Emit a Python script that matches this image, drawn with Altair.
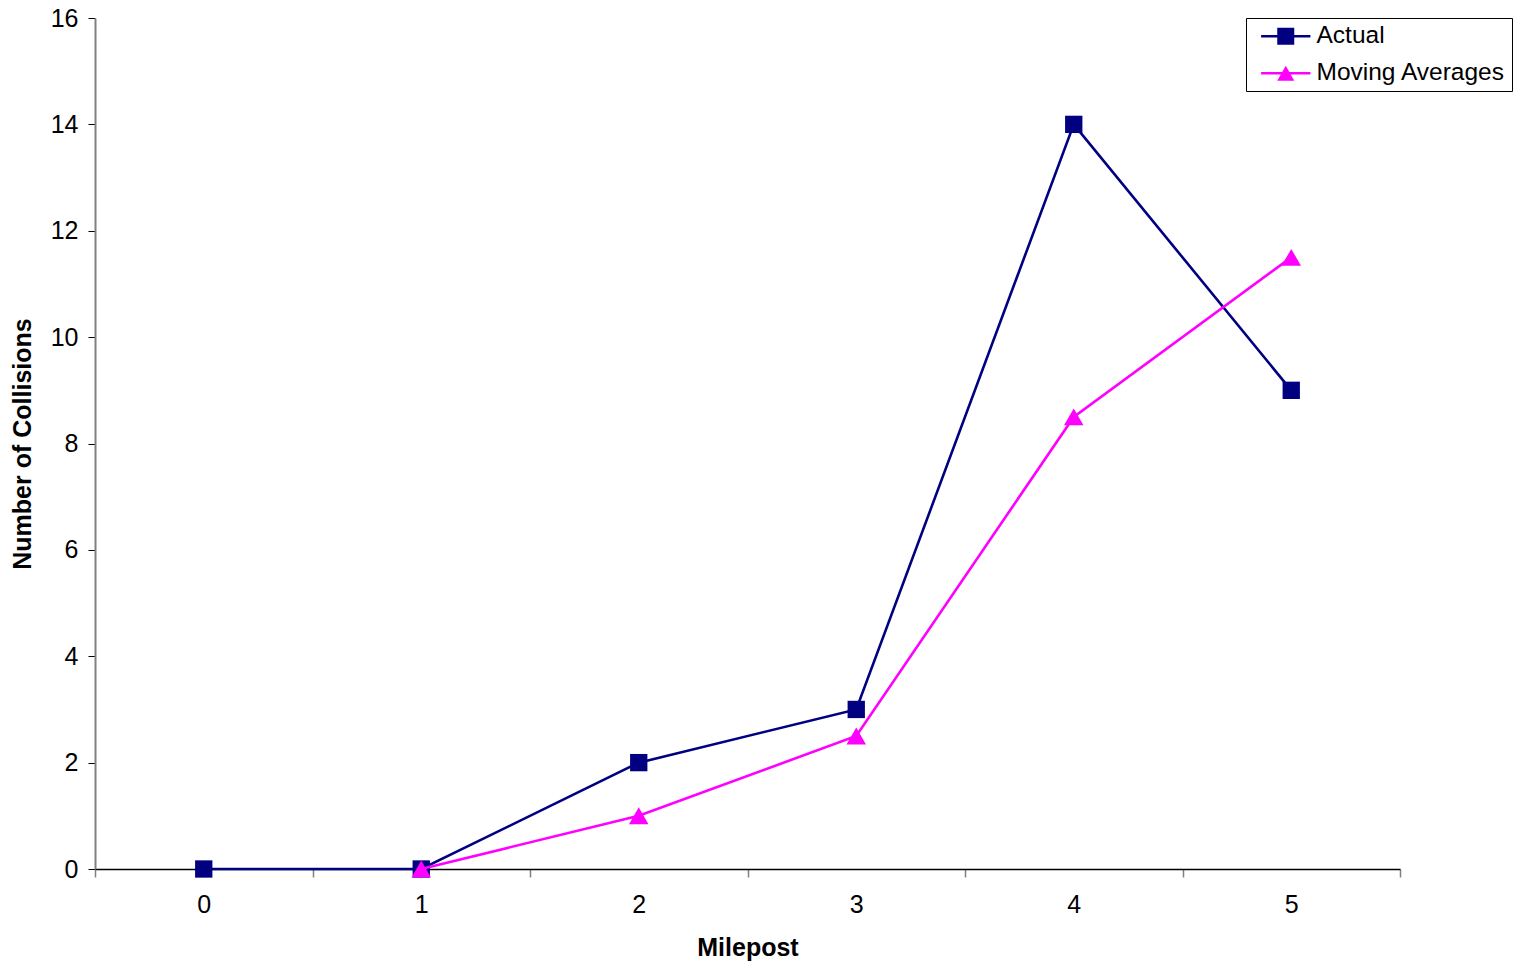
import altair as alt
import pandas as pd

# ---- data ----
mileposts = [0, 1, 2, 3, 4, 5]
actual = [0, 0, 2, 3, 14, 9]
moving_averages = [None, 0, 1, 2.5, 8.5, 11.5]
series_names = ["Actual", "Moving Averages"]
series_colors = ["#000080", "#FF00FF"]
y_tick_values = [0, 2, 4, 6, 8, 10, 12, 14, 16]

rows = []
for m, v in zip(mileposts, actual):
    rows.append({"Milepost": m, "Collisions": v, "Series": series_names[0]})
for m, v in zip(mileposts, moving_averages):
    if v is not None:
        rows.append({"Milepost": m, "Collisions": v, "Series": series_names[1]})
df = pd.DataFrame(rows)

# category boundaries for the tick marks (Excel style: ticks between categories)
x_tick_values = [m - 0.5 for m in mileposts] + [mileposts[-1] + 0.5]

FONT = "Liberation Sans"
PLOT_W, PLOT_H = 1305, 851
half_cat = PLOT_W / len(mileposts) / 2

# legend keys: a line segment with the marker on it
SQUARE_KEY = "M-2.9,-0.15H2.9V0.15H-2.9Z M-1,-1H1V1H-1Z"
TRIANGLE_KEY = "M-2.9,-0.15H2.9V0.15H-2.9Z M0,-0.87L1,0.87H-1Z"

color_scale = alt.Scale(domain=series_names, range=series_colors)

x_enc = alt.X(
    "Milepost:Q",
    scale=alt.Scale(domain=[mileposts[0] - 0.5, mileposts[-1] + 0.5], nice=False, zero=False),
    axis=alt.Axis(
        title="Milepost",
        values=x_tick_values,
        labelExpr="datum.value > 5 ? '' : format(datum.value + 0.5, 'd')",
        labelOffset=half_cat,
        labelFlush=False,
        labelOverlap=False,
        labelBaseline="middle",
        labelPadding=27,
        tickSize=8,
        tickColor="#808080",
        tickWidth=1.5,
        domainColor="#000000",
        domainWidth=1.5,
        titleX=PLOT_W / 2,
        titleY=78,
        titleAlign="center",
        titleBaseline="middle",
    ),
)
y_enc = alt.Y(
    "Collisions:Q",
    scale=alt.Scale(domain=[0, 16], nice=False),
    axis=alt.Axis(
        title="Number of Collisions",
        values=y_tick_values,
        tickSize=7,
        tickColor="#000000",
        domainColor="#808080",
        domainWidth=2,
        labelPadding=10,
        titleAngle=270,
        titleX=-73,
        titleY=PLOT_H / 2,
        titleAlign="center",
        titleBaseline="middle",
    ),
)

legend = alt.Legend(
    orient="none",
    legendX=1151,
    legendY=0,
    title=None,
    padding=6,
    symbolOffset=21.5,
    labelOffset=18.5,
    rowPadding=12,
    labelLimit=400,
    labelFont=FONT,
    labelFontSize=24.5,
    labelColor="#000000",
    strokeColor="#000000",
    fillColor="#FFFFFF",
    symbolStrokeWidth=0,
    symbolOpacity=1,
    symbolSize=289,
)

legend_layer = alt.Chart(df).mark_point(filled=True, opacity=0).encode(
    x=x_enc,
    y=y_enc,
    color=alt.Color("Series:N", scale=color_scale, legend=legend),
    shape=alt.Shape(
        "Series:N",
        scale=alt.Scale(domain=series_names, range=[SQUARE_KEY, TRIANGLE_KEY]),
        legend=legend,
    ),
)

def series_layers(name, shape, size):
    base = alt.Chart(df).transform_filter(alt.datum.Series == name)
    line = base.mark_line(strokeWidth=2.6).encode(
        x=x_enc, y=y_enc, color=alt.Color("Series:N", scale=color_scale, legend=None)
    )
    pts = base.mark_point(filled=True, opacity=1, shape=shape, size=size).encode(
        x=x_enc, y=y_enc, color=alt.Color("Series:N", scale=color_scale, legend=None)
    )
    return [line, pts]

layers = [legend_layer] + series_layers("Actual", "square", 300) + series_layers(
    "Moving Averages", "triangle-up", 380
)

chart = (
    alt.layer(*layers)
    .properties(
        width=PLOT_W,
        height=PLOT_H,
        padding={"left": 87, "top": 10, "right": 113, "bottom": 95},
        autosize=alt.AutoSizeParams(type="none"),
        background="#FFFFFF",
    )
    .configure_view(stroke=None)
    .configure_axis(
        grid=False,
        labelFont=FONT,
        labelFontSize=25,
        labelColor="#000000",
        titleFont=FONT,
        titleFontSize=25,
        titleFontWeight="bold",
        titleColor="#000000",
    )
)

chart.save("out.html", embed_options={"renderer": "svg", "actions": False})
